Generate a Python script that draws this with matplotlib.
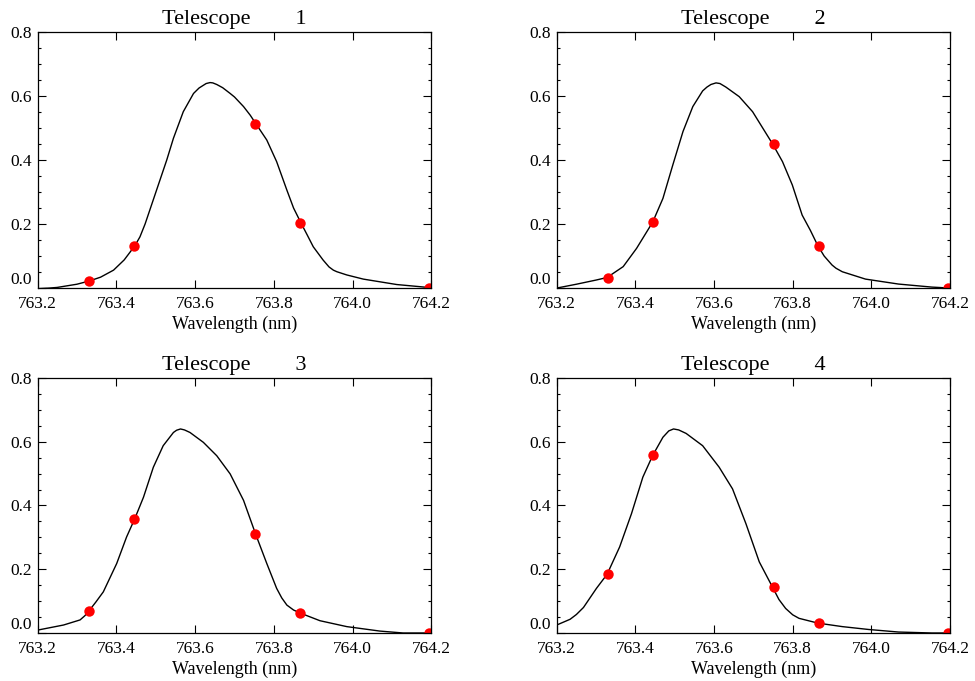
import numpy as np
import matplotlib
matplotlib.use('Agg')
import matplotlib.pyplot as plt

plt.rcParams['font.family'] = ['Liberation Serif', 'DejaVu Serif']

# sample wavelengths (red dots), same for all telescopes
dot_wl = [763.33, 763.446, 763.752, 763.867, 764.195]

dot1 = [0.023, 0.132, 0.514, 0.203, 0.0]
dot2 = [0.033, 0.206, 0.450, 0.132, 0.0]
dot3 = [0.070, 0.359, 0.309, 0.0615, 0.0]
dot4 = [0.184, 0.557, 0.143, 0.031, 0.0]

# profile curves
wl1 = [763.20, 763.23, 763.25, 763.30, 763.331, 763.36, 763.393, 763.42, 763.447,
       763.46, 763.473, 763.495, 763.528, 763.545, 763.570, 763.596, 763.61,
       763.628, 763.638, 763.645, 763.655, 763.67, 763.689, 763.70, 763.723,
       763.74, 763.754, 763.782, 763.807, 763.833, 763.85, 763.869, 763.885,
       763.90, 763.925, 763.94, 763.951, 763.96, 763.985, 764.027, 764.112, 764.20]
pr1 = [-0.002, 0.0, 0.002, 0.012, 0.022, 0.034, 0.056, 0.088, 0.132,
       0.16, 0.20, 0.28, 0.40, 0.468, 0.551, 0.608, 0.625,
       0.639, 0.642, 0.641, 0.636, 0.626, 0.608, 0.597, 0.567,
       0.54, 0.514, 0.4625, 0.395, 0.306, 0.25, 0.203, 0.165,
       0.129, 0.0875, 0.066, 0.056, 0.051, 0.041, 0.028, 0.011, 0.001]

wl2 = [763.20, 763.25, 763.30, 763.328, 763.369, 763.403, 763.444, 763.470, 763.495,
       763.521, 763.546, 763.571, 763.582, 763.592, 763.605, 763.615, 763.630,
       763.664, 763.698, 763.749, 763.774, 763.799, 763.824, 763.845, 763.864,
       763.88, 763.900, 763.91, 763.926, 763.985, 764.069, 764.154, 764.20]
pr2 = [0.0, 0.012, 0.025, 0.033, 0.067, 0.124, 0.206, 0.28, 0.384,
       0.489, 0.567, 0.616, 0.628, 0.636, 0.641, 0.639, 0.628,
       0.598, 0.551, 0.45, 0.395, 0.322, 0.228, 0.18, 0.132,
       0.10, 0.072, 0.062, 0.051, 0.028, 0.0125, 0.003, 0.0]

wl3 = [763.20, 763.266, 763.308, 763.32, 763.331, 763.348, 763.367, 763.401, 763.426,
       763.447, 763.469, 763.494, 763.519, 763.545, 763.553, 763.563, 763.573,
       763.587, 763.621, 763.655, 763.689, 763.723, 763.754, 763.782, 763.807,
       763.82, 763.833, 763.85, 763.869, 763.917, 763.985, 764.069, 764.128, 764.20]
pr3 = [0.009, 0.025, 0.041, 0.054, 0.070, 0.097, 0.129, 0.218, 0.301,
       0.359, 0.426, 0.52, 0.5875, 0.629, 0.636, 0.640, 0.637,
       0.629, 0.598, 0.556, 0.499, 0.416, 0.309, 0.218, 0.140,
       0.11, 0.0875, 0.072, 0.0615, 0.0385, 0.020, 0.006, 0.0, 0.0]

wl4 = [763.20, 763.234, 763.25, 763.268, 763.301, 763.328, 763.360, 763.390, 763.419,
       763.444, 763.470, 763.485, 763.497, 763.51, 763.529, 763.571, 763.613,
       763.647, 763.681, 763.715, 763.749, 763.765, 763.782, 763.80, 763.816,
       763.864, 763.926, 763.993, 764.069, 764.154, 764.20]
pr4 = [0.025, 0.043, 0.058, 0.080, 0.140, 0.184, 0.27, 0.374, 0.489,
       0.557, 0.614, 0.634, 0.640, 0.637, 0.626, 0.5875, 0.52,
       0.452, 0.343, 0.223, 0.143, 0.105, 0.077, 0.057, 0.046,
       0.031, 0.020, 0.011, 0.003, 0.0, 0.0]

titles = ['Telescope        1', 'Telescope        2',
          'Telescope        3', 'Telescope        4']
xticks = [763.2, 763.4, 763.6, 763.8, 764.0, 764.2]
yticks = [0.0, 0.2, 0.4, 0.6, 0.8]

curves = [(wl1, pr1, dot1), (wl2, pr2, dot2), (wl3, pr3, dot3), (wl4, pr4, dot4)]
# axes boxes in figure fractions [left, bottom, width, height]
boxes = [[0.0385, 0.577, 0.404, 0.376],
         [0.571, 0.577, 0.4034, 0.376],
         [0.0385, 0.0705, 0.404, 0.3745],
         [0.571, 0.0705, 0.4034, 0.3745]]

fig = plt.figure(figsize=(9.75, 6.81), dpi=100)

for i in range(4):
    wl, pr, dots = curves[i]
    ax = fig.add_axes(boxes[i])
    ax.plot(wl, pr, 'k-', lw=1.0)
    ax.plot(dot_wl, dots, 'o', color='#ff0000', ms=7.5, mec='none')
    ax.set_xlim(763.2, 764.2)
    ax.set_ylim(0.0, 0.8)
    ax.set_xticks(xticks)
    ax.set_xticklabels(['%.1f' % t for t in xticks])
    ax.set_yticks(yticks)
    ax.set_yticklabels(['%.1f' % t for t in yticks])
    ax.set_yticks(np.arange(0.0, 0.801, 0.05), minor=True)
    ax.tick_params(which='both', direction='in', top=True, right=True, width=0.8,
                   labelsize=12.5, colors='black')
    ax.tick_params(which='major', length=5.5)
    ax.tick_params(which='minor', length=2.5)
    ax.tick_params(axis='x', pad=6)
    ax.tick_params(axis='y', pad=4)
    for s in ax.spines.values():
        s.set_linewidth(0.9)
    ax.set_xlabel('Wavelength (nm)', fontsize=13, labelpad=2.5)
    ax.set_title(titles[i], fontsize=16, pad=6)
    # lowest y label sits on the axis, IDL style
    ax.yaxis.get_major_ticks()[0].label1.set_verticalalignment('bottom')

fig.savefig('out.png', dpi=100)
